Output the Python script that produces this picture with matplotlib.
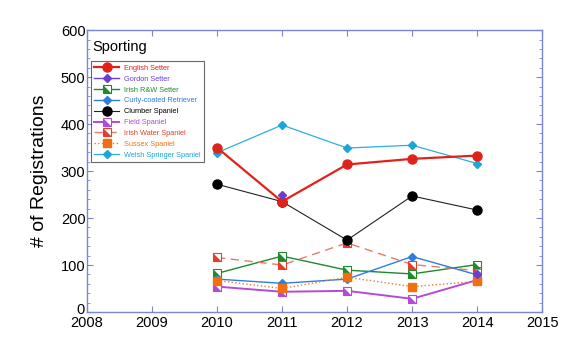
import numpy as np
import matplotlib.pyplot as plt
from matplotlib.ticker import MultipleLocator, FuncFormatter
from matplotlib.legend_handler import HandlerTuple

plt.rcParams['font.family'] = ['Liberation Sans', 'DejaVu Sans']

years = [2010, 2011, 2012, 2013, 2014]
nan = np.nan

# breed registrations
english_setter = [350, 235, 314, 326, 333]
gordon_setter = [nan, 250, nan, nan, 80]
irish_rw_setter = [82, 119, 89, 81, 101]
curly_coated = [70, 61, 70, 118, 79]
clumber_spaniel = [272, 235, 153, 247, 217]
field_spaniel = [54, 43, 45, 28, 68]
irish_water_spaniel = [116, 100, 147, 101, 88]
sussex_spaniel = [67, 50, 74, 54, 65]
welsh_springer = [339, 398, 349, 355, 316]

spine_col = '#7c84d8'

fig = plt.figure(figsize=(5.83, 3.59), dpi=100)
ax = fig.add_axes([0.149, 0.131, 0.781, 0.785])

# lower-left half triangle marker (same footprint as 's')
half = [(-1, -1), (1, -1), (-1, 1), (-1, -1)]


def half_square(y, color, ls='-', lcolor=None, lw=1.0, zo=2):
    ln, = ax.plot(years, y, ls=ls, color=lcolor or color, lw=lw, marker='s',
                  ms=6, mfc='white', mec=color, mew=0.8, zorder=zo)
    tri, = ax.plot(years, y, ls='none', marker=half, ms=6, mfc=color,
                   mec='none', zorder=zo + 0.1)
    return (ln, tri)


handles = []
labels = []
h, = ax.plot(years, english_setter, color='#e0231a', lw=1.6, marker='o', ms=6.5, zorder=5)
handles.append(h); labels.append('English Setter')
h, = ax.plot(years, gordon_setter, color='#6a3fd0', lw=1.0, marker='D', ms=4, zorder=6)
handles.append(h); labels.append('Gordon Setter')
handles.append(half_square(irish_rw_setter, '#1d8a2c'))
labels.append('Irish R&W Setter')
h, = ax.plot(years, curly_coated, color='#2c7fe0', lw=1.0, marker='D', ms=4, zorder=3)
handles.append(h); labels.append('Curly-coated Retriever')
h, = ax.plot(years, clumber_spaniel, color='#222222', lw=0.8, marker='o', ms=6.5,
             mfc='black', mec='black', zorder=4)
handles.append(h); labels.append('Clumber Spaniel')
handles.append(half_square(field_spaniel, '#b44ad8', lw=1.4))
labels.append('Field Spaniel')
handles.append(half_square(irish_water_spaniel, '#e0402a', ls=(0, (6, 4)), lcolor='#ea7a6a'))
labels.append('Irish Water Spaniel')
h, = ax.plot(years, sussex_spaniel, color='#f07a30', lw=1.0, ls=':', marker='s', ms=6,
             mfc='#f07010', mec='#f07010', zorder=3)
handles.append(h); labels.append('Sussex Spaniel')
h, = ax.plot(years, welsh_springer, color='#2ab0e0', lw=0.9, marker='D', ms=4.5,
             mfc='#1aa6d8', mec='#1aa6d8', zorder=4)
handles.append(h); labels.append('Welsh Springer Spaniel')

ax.set_xlim(2008, 2015)
ax.set_ylim(0, 600)
ax.xaxis.set_major_locator(MultipleLocator(1))
ax.yaxis.set_major_locator(MultipleLocator(100))
ax.yaxis.set_minor_locator(MultipleLocator(20))
# zero label is nudged up a touch so it clears "2008", drawn separately below
ax.yaxis.set_major_formatter(FuncFormatter(lambda v, p: '' if v == 0 else f'{v:.0f}'))
ax.tick_params(which='both', direction='in', top=True, right=True, color=spine_col,
               labelsize=10.5, pad=1)
ax.tick_params(axis='x', pad=3)
ax.tick_params(which='major', length=4)
ax.tick_params(which='minor', length=2)
for s in ax.spines.values():
    s.set_color(spine_col)
    s.set_linewidth(1.0)

ax.text(-0.004, 0.007, '0', transform=ax.transAxes, fontsize=10.5,
        ha='right', va='center')

ax.set_ylabel('# of Registrations', fontsize=14, labelpad=9)
ax.text(0.012, 0.965, 'Sporting', transform=ax.transAxes, fontsize=10.5,
        ha='left', va='top')

leg = ax.legend(handles, labels, loc='upper left', bbox_to_anchor=(0.008, 0.89),
                fontsize=5.3, frameon=True, fancybox=False, edgecolor='#444444',
                handlelength=3.4, handletextpad=0.6, labelspacing=0.5,
                borderpad=0.5, borderaxespad=0,
                handler_map={tuple: HandlerTuple(ndivide=1)})
leg.get_frame().set_linewidth(0.8)
for txt, hd in zip(leg.get_texts(), handles):
    ln = hd[0] if isinstance(hd, tuple) else hd
    txt.set_color(ln.get_markeredgecolor() if ln.get_markeredgecolor() != 'white' else ln.get_color())

fig.savefig('out.png', dpi=100)
